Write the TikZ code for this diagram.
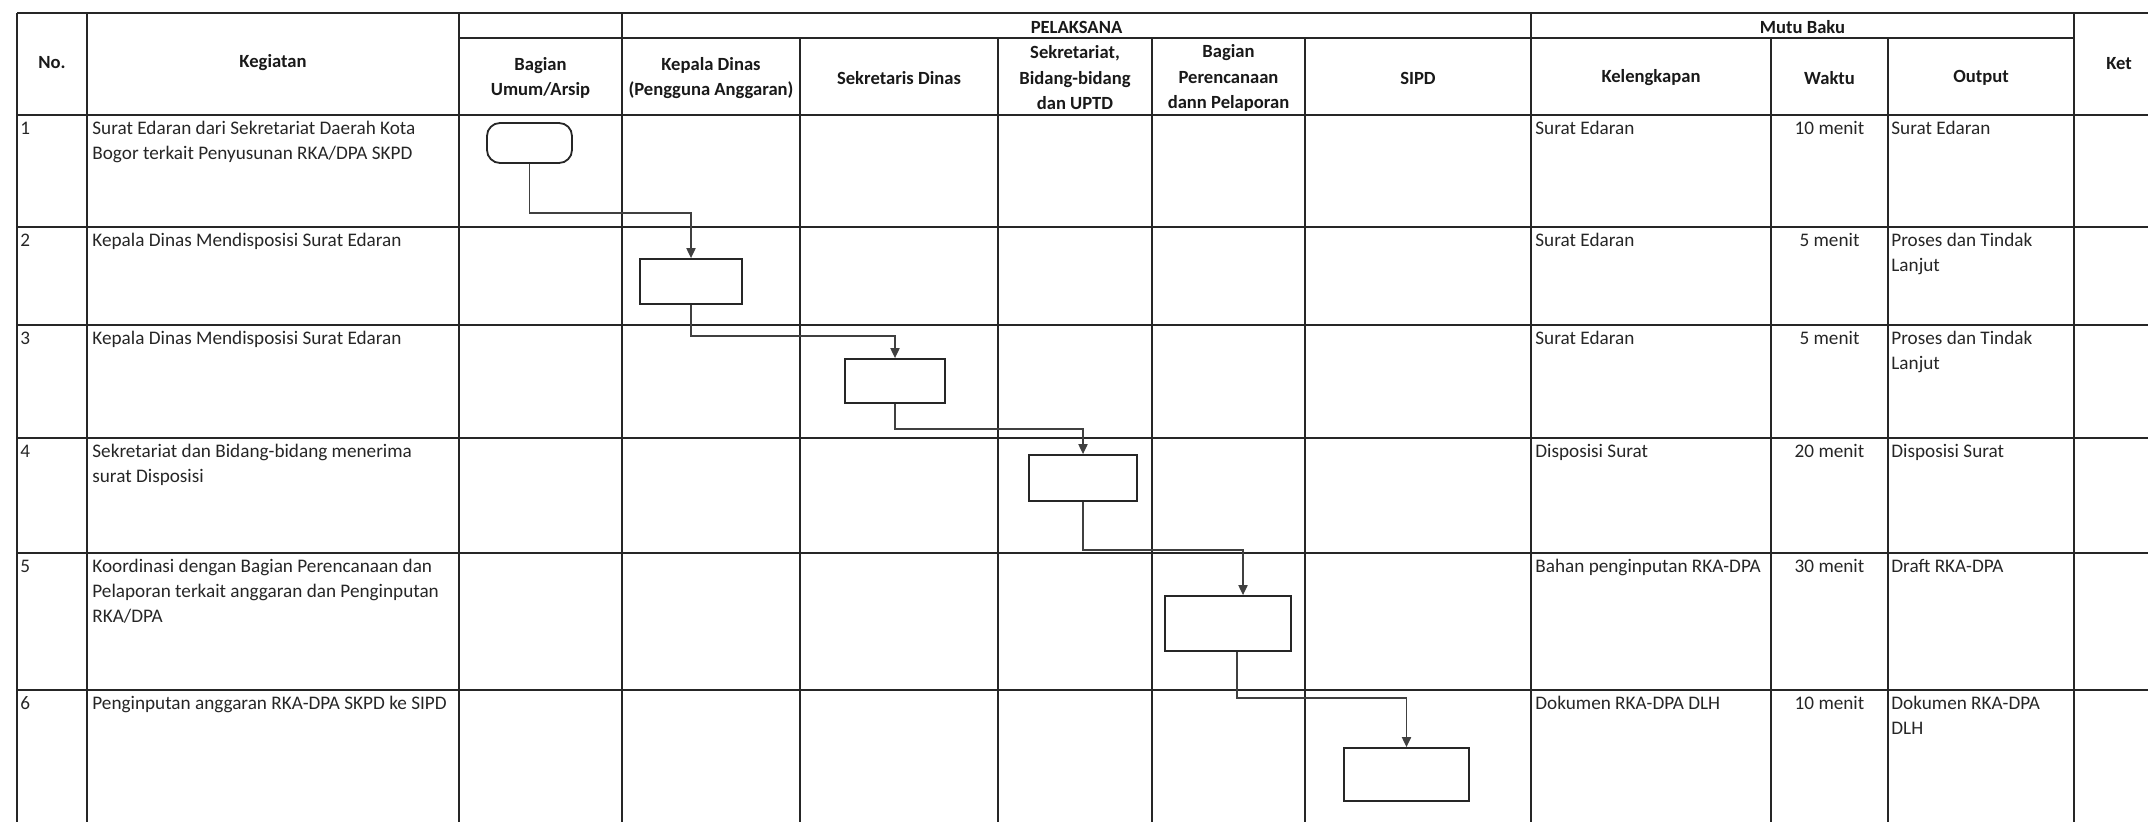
\documentclass[tikz,border=0pt]{standalone}
\usepackage{fontspec}
\setmainfont{Carlito}
\usetikzlibrary{arrows.meta}

\begin{document}
\begin{tikzpicture}[
    x=0.5pt, y=-0.5pt,
    >={Triangle[length=5pt, width=4.6pt]},
    grid/.style={line width=1.1pt, black!85},
    flow/.style={->, line width=0.7pt, black!75},
    box/.style={draw=black!85, line width=0.9pt, inner sep=0pt},
    term/.style={box, rounded corners=6.5pt},
    head/.style={inner sep=0pt, align=center, text=black!90, font=\fontsize{9.3}{12.75}\selectfont\bfseries},
    cell/.style={anchor=north west, inner sep=0pt, align=left, text=black!85, font=\fontsize{9.6}{12.5}\selectfont},
    mid/.style={cell, anchor=north, align=center}
]

    \useasboundingbox (0,0) rectangle (2148,822);

    \draw[grid] (17,13) -- (2148,13);
    \draw[grid] (459,38) -- (2074,38);
    \foreach \y in {115,227,325,438,553,690}
        \draw[grid] (17,\y) -- (2148,\y);
    \foreach \x in {17,87,459,622,1531,2074}
        \draw[grid] (\x,13) -- (\x,822);
    \foreach \x in {800,998,1152,1305,1771,1888}
        \draw[grid] (\x,38) -- (\x,822);

    \node[head] (hno) at (52,63) {No.};
    \node[head] (hkeg) at (273,63) {Kegiatan};
    \node[head] (hpel) at (1076.5,27) {PELAKSANA};
    \node[head] (hmutu) at (1802.5,27) {Mutu Baku};
    \node[head] (hket) at (2119,64) {Ket};
    \node[head] (humum) at (540.5,78) {Bagian\\Umum/Arsip};
    \node[head] (hkadis) at (711,78) {Kepala Dinas\\(Pengguna Anggaran)};
    \node[head] (hsekdis) at (899,78) {Sekretaris Dinas};
    \node[head] (hbidang) at (1075,78) {Sekretariat,\\Bidang-bidang\\dan UPTD};
    \node[head] (hperenc) at (1228.5,78) {Bagian\\Perencanaan\\dann Pelaporan};
    \node[head] (hsipd) at (1418,78) {SIPD};
    \node[head] (hkel) at (1651,78) {Kelengkapan};
    \node[head] (hwaktu) at (1829.5,78) {Waktu};
    \node[head] (hout) at (1981,78) {Output};

    \foreach \n/\y in {1/117,2/229,3/327,4/440,5/555,6/692}
        \node[cell] (no\n) at (20,\y) {\strut\n};
    \foreach \n/\y/\t in {1/117/10,2/229/5,3/327/5,4/440/20,5/555/30,6/692/10}
        \node[mid] (wk\n) at (1829.5,\y) {\strut\t\ menit};

    \node[cell] (keg1) at (92,117) {\strut Surat Edaran dari Sekretariat Daerah Kota\\Bogor terkait Penyusunan RKA/DPA SKPD};
    \node[cell] (keg2) at (92,229) {\strut Kepala Dinas Mendisposisi Surat Edaran};
    \node[cell] (keg3) at (92,327) {\strut Kepala Dinas Mendisposisi Surat Edaran};
    \node[cell] (keg4) at (92,440) {\strut Sekretariat dan Bidang-bidang menerima\\surat Disposisi};
    \node[cell] (keg5) at (92,555) {\strut Koordinasi dengan Bagian Perencanaan dan\\Pelaporan terkait anggaran dan Penginputan\\RKA/DPA};
    \node[cell] (keg6) at (92,692) {\strut Penginputan anggaran RKA-DPA SKPD ke SIPD};

    \node[cell] (kel1) at (1535,117) {\strut Surat Edaran};
    \node[cell] (kel2) at (1535,229) {\strut Surat Edaran};
    \node[cell] (kel3) at (1535,327) {\strut Surat Edaran};
    \node[cell] (kel4) at (1535,440) {\strut Disposisi Surat};
    \node[cell] (kel5) at (1535,555) {\strut Bahan penginputan RKA-DPA};
    \node[cell] (kel6) at (1535,692) {\strut Dokumen RKA-DPA DLH};

    \node[cell] (out1) at (1891,117) {\strut Surat Edaran};
    \node[cell] (out2) at (1891,229) {\strut Proses dan Tindak\\Lanjut};
    \node[cell] (out3) at (1891,327) {\strut Proses dan Tindak\\Lanjut};
    \node[cell] (out4) at (1891,440) {\strut Disposisi Surat};
    \node[cell] (out5) at (1891,555) {\strut Draft RKA-DPA};
    \node[cell] (out6) at (1891,692) {\strut Dokumen RKA-DPA\\DLH};

    \node[term, minimum width=42.5pt, minimum height=20pt] (s1) at (529.5,143) {};
    \node[box, minimum width=51pt, minimum height=22.5pt] (s2) at (691,281.5) {};
    \node[box, minimum width=50pt, minimum height=22pt] (s3) at (895,381) {};
    \node[box, minimum width=54pt, minimum height=23pt] (s4) at (1083,478) {};
    \node[box, minimum width=63pt, minimum height=27.5pt] (s5) at (1228,623.5) {};
    \node[box, minimum width=62.5pt, minimum height=26.5pt] (s6) at (1406.5,774.5) {};

    \draw[flow] (s1.south) -- ++(0,49) -| (s2.north);
    \draw[flow] (s2.south) -- ++(0,31) -| (s3.north);
    \draw[flow] (s3.south) -- ++(0,25) -| (s4.north);
    \draw[flow] (s4.south) -- ++(0,48) -| ([xshift=7.5pt]s5.north);
    \draw[flow] ([xshift=4.5pt]s5.south) -- ++(0,46) -| (s6.north);

\end{tikzpicture}
\end{document}
